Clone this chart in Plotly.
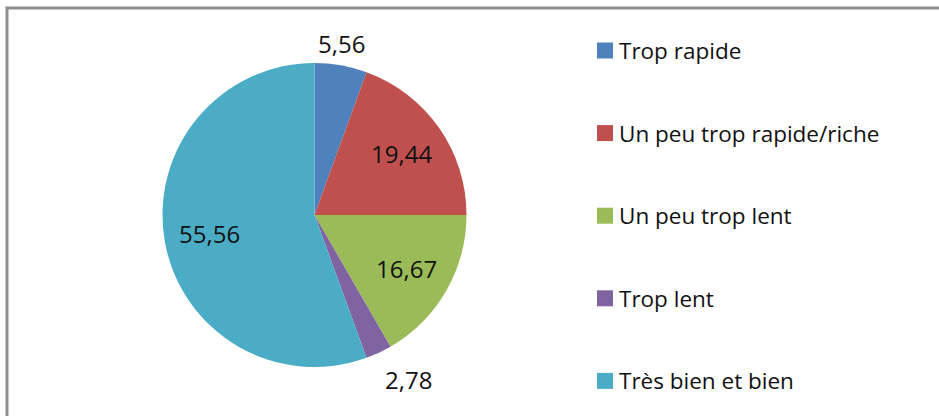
import math
import plotly.graph_objects as go

# Survey answers and their shares (percent)
categories = ["Trop rapide", "Un peu trop rapide/riche", "Un peu trop lent",
              "Trop lent", "Très bien et bien"]
values = [5.56, 19.44, 16.67, 2.78, 55.56]
value_labels = ["5,56", "19,44", "16,67", "2,78", "55,56"]
colors = ["#4F81BD", "#C0504D", "#9BBB59", "#8064A2", "#4BACC6"]

W, H = 939, 416
cx, cy, R = 314.5, 215.0, 152.0  # pie centre and radius in pixels

# label placement: radial fraction and anchors for each slice label
label_r = [1.02, 0.70, 0.70, 1.06, 0.70]
label_xanchor = ["center", "center", "center", "left", "center"]
label_yanchor = ["bottom", "middle", "middle", "top", "middle"]

FONT = "Open Sans, Lato, DejaVu Sans, sans-serif"


def px(x):
    return x / W


def py(y):
    return 1 - y / H


fig = go.Figure(go.Pie(
    labels=categories,
    values=values,
    sort=False,
    direction="clockwise",
    rotation=0,
    marker=dict(colors=colors, line=dict(width=0)),
    textinfo="none",
    hoverinfo="label+value",
    showlegend=False,
    domain=dict(x=[px(cx - R), px(cx + R)], y=[py(cy + R), py(cy - R)]),
))

annotations = []
shapes = []

# slice value labels, placed along each slice's mid-angle
total = sum(values)
cum = 0.0
for i, v in enumerate(values):
    mid = (cum + v / 2) / total * 2 * math.pi
    cum += v
    r = R * label_r[i]
    x = cx + r * math.sin(mid)
    y = cy - r * math.cos(mid)
    annotations.append(dict(
        x=px(x), y=py(y), xref="paper", yref="paper",
        text=value_labels[i], showarrow=False,
        xanchor=label_xanchor[i], yanchor=label_yanchor[i],
        font=dict(family=FONT, size=24, color="#111111"),
    ))

# legend column on the right
leg_top, leg_step = 50.5, 82.6
sq = 16
sq_x = 597
for i, name in enumerate(categories):
    yc = leg_top + i * leg_step
    shapes.append(dict(
        type="rect", xref="paper", yref="paper",
        x0=px(sq_x), x1=px(sq_x + sq), y0=py(yc + sq / 2), y1=py(yc - sq / 2),
        fillcolor=colors[i], line=dict(width=0),
    ))
    annotations.append(dict(
        x=px(617), y=py(yc), xref="paper", yref="paper",
        text=name, showarrow=False, xanchor="left", yanchor="middle",
        font=dict(family=FONT, size=22.5, color="#111111"),
    ))

# chart area frame
shapes.append(dict(
    type="rect", xref="paper", yref="paper",
    x0=px(7), x1=1.05, y0=-0.05, y1=py(8),
    line=dict(color="#8f8f8f", width=3), fillcolor="rgba(0,0,0,0)",
))

fig.update_layout(
    width=W, height=H,
    margin=dict(l=0, r=0, t=0, b=0),
    paper_bgcolor="white",
    plot_bgcolor="white",
    annotations=annotations,
    shapes=shapes,
)

fig.write_html("out.html")
